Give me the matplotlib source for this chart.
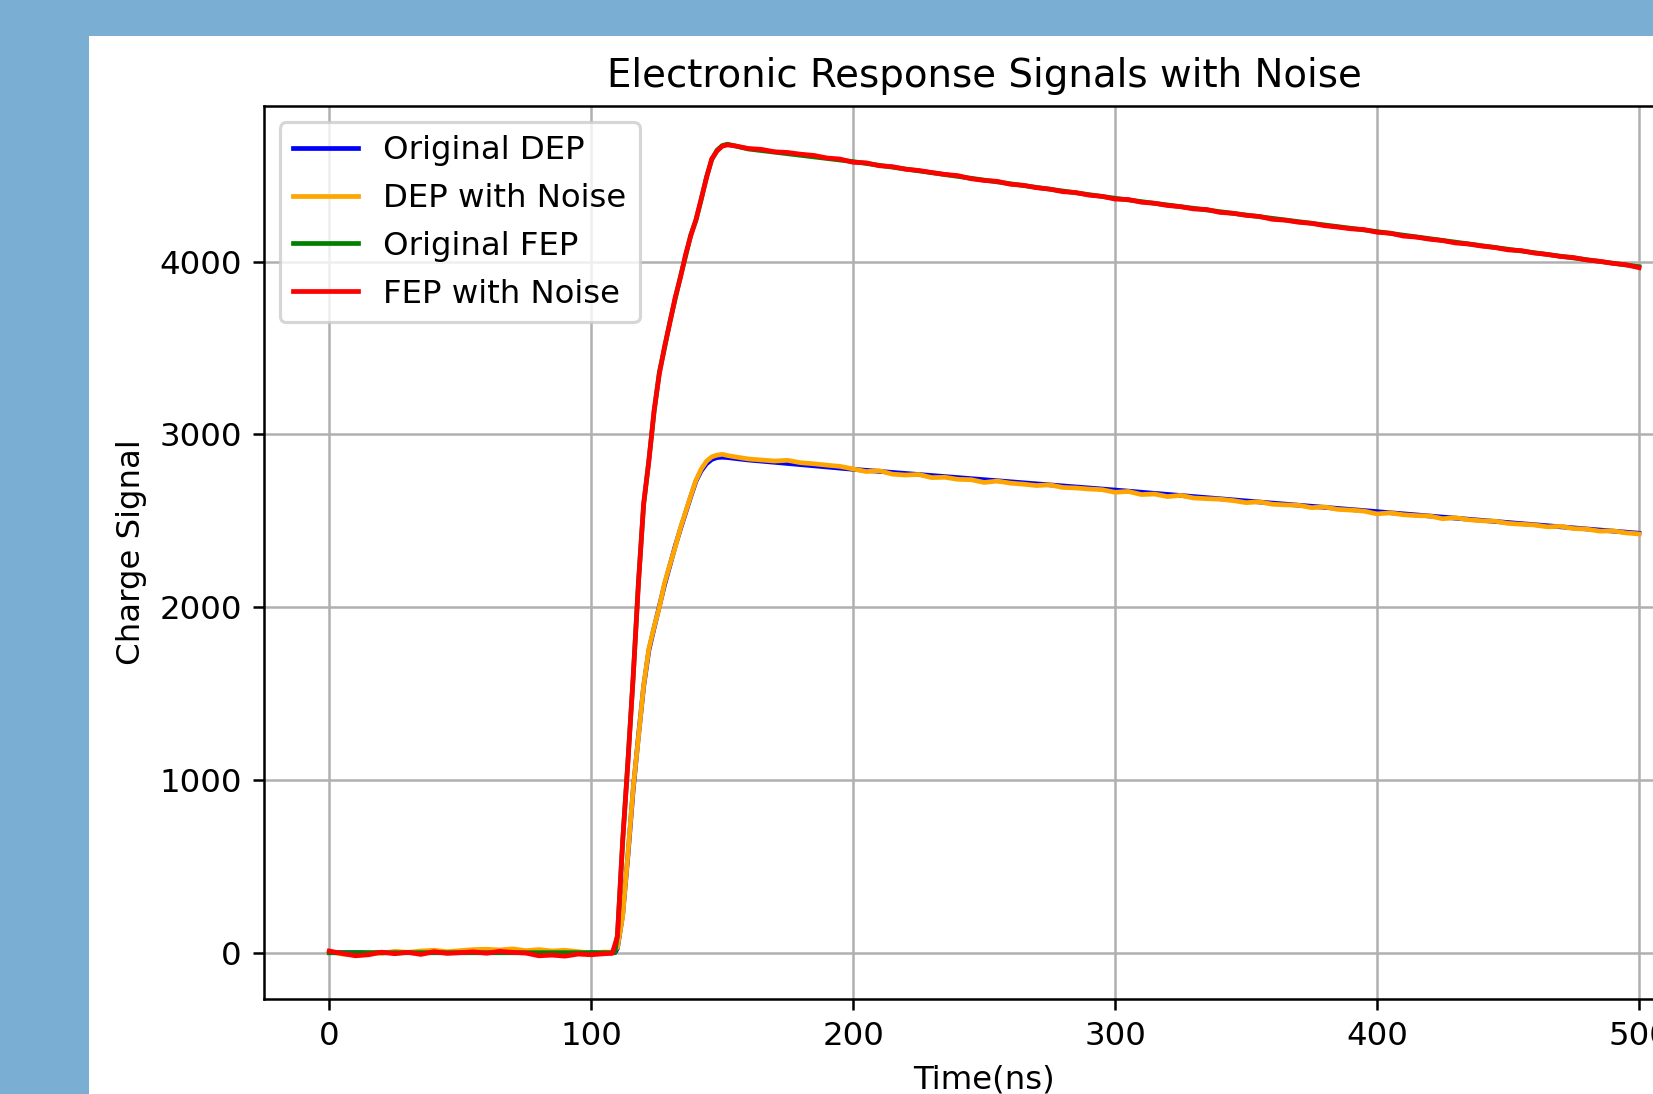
import matplotlib
matplotlib.use("Agg")
import matplotlib.pyplot as plt
from matplotlib.patches import Rectangle
import numpy as np

# Original (noise-free) signals
t_clean = [0, 109, 110, 112, 114, 116, 118, 120, 122, 124, 126, 128, 130, 132, 134,
           136, 138, 140, 142, 144, 146, 148, 150, 152, 160, 200, 250, 300, 350, 400,
           450, 500]
dep_clean = [0, 0, 25, 220, 560, 940, 1250, 1540, 1750, 1880, 2005, 2130, 2240, 2350,
             2450, 2545, 2640, 2730, 2790, 2830, 2855, 2866, 2868, 2866, 2852, 2798,
             2738, 2678, 2615, 2553, 2490, 2428]
fep_clean = [0, 0, 100, 640, 1110, 1590, 2140, 2590, 2850, 3130, 3360, 3500, 3650, 3780,
             3910, 4030, 4155, 4240, 4360, 4490, 4590, 4645, 4672, 4680, 4652, 4579,
             4472, 4367, 4270, 4174, 4072, 3971]

# Noisy signals
t_noisy = list(range(0, 106, 5)) + [108] + list(range(110, 153, 2)) + list(range(155, 501, 5))
dep_noisy = [5, -8, -12, 3, -4, 8, 2, 10, 14, 6, 12, 18, 20, 16, 22, 12, 18, 10, 14, 6, -2, 4,
             2,
             30, 210, 570, 950, 1245, 1545, 1760, 1885, 2000, 2140, 2245, 2345, 2455, 2550,
             2645, 2735, 2800, 2845, 2870, 2880, 2885, 2878,
             2870, 2858, 2852, 2846, 2850, 2836, 2830, 2822, 2815, 2800,
             2785, 2790, 2770, 2765, 2768, 2750, 2752, 2740, 2738, 2722,
             2730, 2718, 2712, 2704, 2708, 2693, 2690, 2684, 2680, 2665,
             2670, 2652, 2655, 2640, 2647, 2632, 2628, 2625, 2617, 2605,
             2610, 2596, 2592, 2590, 2576, 2580, 2566, 2562, 2556, 2540,
             2546, 2535, 2530, 2528, 2512, 2518, 2506, 2500, 2498, 2485,
             2480, 2476, 2465, 2468, 2455, 2452, 2440, 2442, 2430, 2424]
fep_noisy = [10, -5, -18, -12, 3, -6, 2, -10, 6, -4, 0, 5, -3, 8, 2, -2, -18, -14, -20, -8, -12, -6,
             -4,
             95, 650, 1100, 1595, 2130, 2600, 2845, 3140, 3350, 3510, 3645, 3790, 3905, 4040,
             4150, 4245, 4365, 4485, 4595, 4640, 4668, 4676,
             4670, 4655, 4650, 4636, 4632, 4622, 4615, 4600, 4594, 4575,
             4572, 4555, 4550, 4535, 4528, 4516, 4505, 4498, 4480, 4470,
             4465, 4448, 4442, 4428, 4420, 4405, 4400, 4385, 4378, 4362,
             4360, 4344, 4338, 4325, 4318, 4305, 4302, 4285, 4280, 4268,
             4262, 4245, 4240, 4228, 4222, 4208, 4200, 4190, 4186, 4170,
             4165, 4148, 4142, 4130, 4122, 4108, 4102, 4090, 4082, 4068,
             4064, 4050, 4042, 4030, 4024, 4010, 4002, 3990, 3982, 3965]

plt.rcParams["font.size"] = 10.3

W, H, DPI = 1653, 1094, 226
fig = plt.figure(figsize=(W / DPI, H / DPI), dpi=DPI, facecolor="#7aaed3")

# white figure area of the screenshot (cropped on right and bottom)
fig.add_artist(Rectangle((89 / W, 0), 1, 1058 / H, transform=fig.transFigure,
                         facecolor="white", edgecolor="none", zorder=-1))

ax = fig.add_axes([263.8 / W, 95 / H, 1440.7 / W, 893 / H])
ax.plot(t_clean, dep_clean, color="blue", label="Original DEP")
ax.plot(t_noisy, dep_noisy, color="orange", label="DEP with Noise")
ax.plot(t_clean, fep_clean, color="green", label="Original FEP")
ax.plot(t_noisy, fep_noisy, color="red", label="FEP with Noise")

ax.set_xlim(-25, 525)
ax.set_ylim(-268, 4901)
ax.set_title("Electronic Response Signals with Noise")
ax.set_xlabel("Time(ns)")
ax.set_ylabel("Charge Signal")
ax.legend(loc="upper left", labelspacing=0.52)
ax.grid(True)

fig.savefig("out.png", dpi=DPI, facecolor=fig.get_facecolor())
